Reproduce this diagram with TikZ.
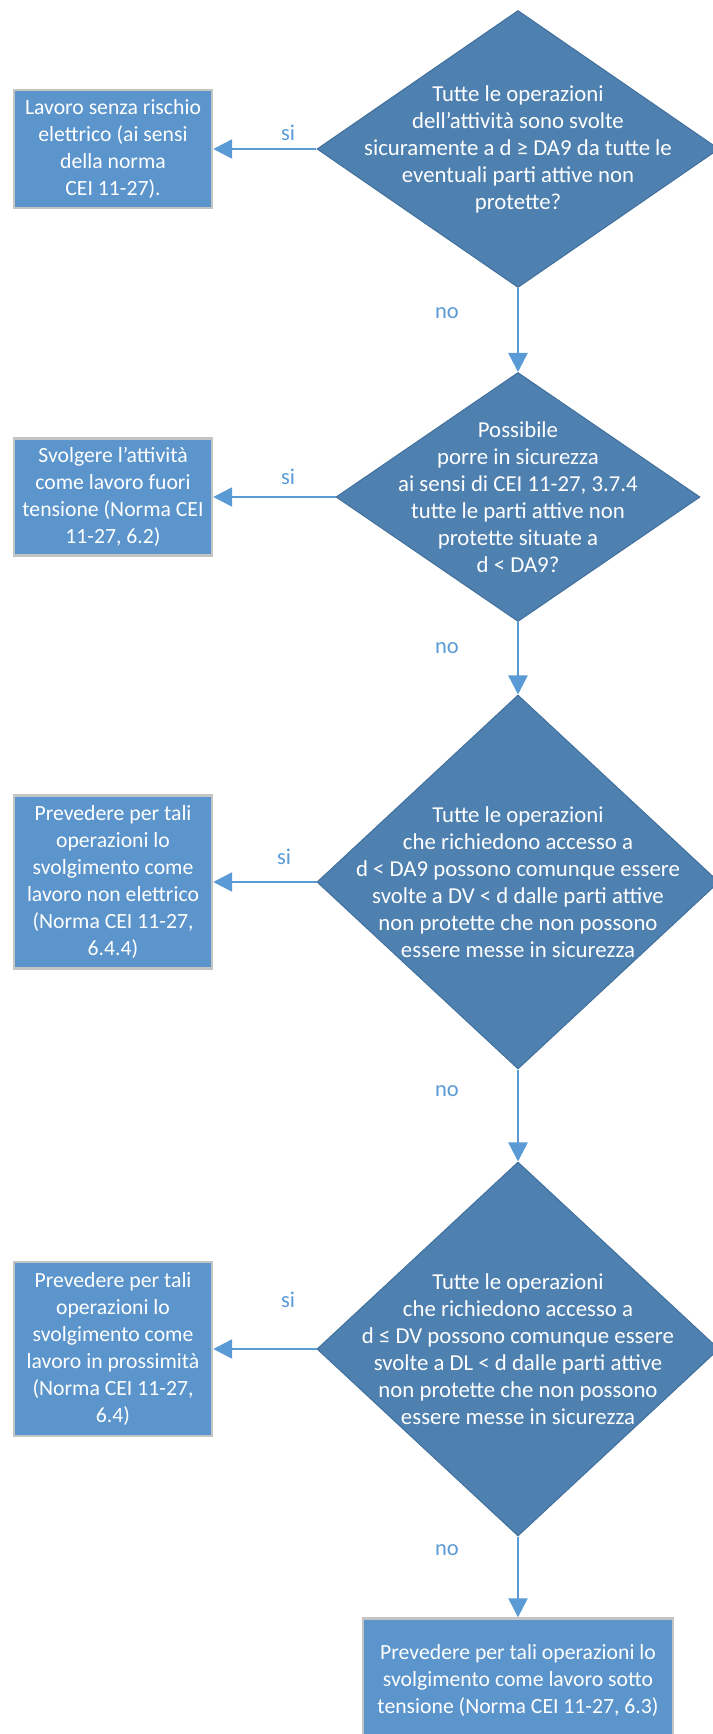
\documentclass[tikz,border=0pt]{standalone}
\usepackage{fontspec}
\setmainfont{Carlito}
\usetikzlibrary{shapes.geometric, arrows.meta}
\definecolor{diamondblue}{HTML}{4E80B0}
\definecolor{diamondedge}{HTML}{41709C}
\definecolor{boxblue}{HTML}{5B95CC}
\definecolor{boxedge}{HTML}{C4C4C4}
\definecolor{arrowblue}{HTML}{5B9BD5}
\tikzstyle{decision} = [diamond, inner sep=0pt, minimum width=402pt, minimum height=374pt, draw=diamondedge, line width=1pt, fill=diamondblue]
\tikzstyle{decision_text} = [text=white, align=center, inner sep=0pt, font=\fontsize{22.8}{27}\selectfont]
\tikzstyle{result} = [rectangle, minimum width=198pt, inner sep=0pt, align=center, draw=boxedge, line width=2.4pt, fill=boxblue, text=white, font=\fontsize{21.7}{27}\selectfont]
\tikzstyle{answer} = [text=arrowblue, inner sep=0pt, font=\fontsize{22.5}{27}\selectfont]
\tikzstyle{arrow} = [line width=2.5pt, draw=arrowblue, -{Triangle[width=19pt,length=19pt]}]

\begin{document}
\begin{tikzpicture}[x=1pt, y=-1pt]
		\useasboundingbox (0,0) rectangle (712,1734);
		\node (q1) [decision, minimum height=277pt] at (518,149) {};
		\node (q2) [decision, below of=q1, node distance=348pt, minimum width=364pt, minimum height=249pt] {};
		\node (q3) [decision, below of=q2, node distance=385pt] {};
		\node (q4) [decision, below of=q3, node distance=467pt] {};
		\node (q1_text) [decision_text] at (q1) {Tutte le operazioni\\dell’attività sono svolte\\sicuramente a d ≥ DA9 da tutte le\\eventuali parti attive non\\protette?};
		\node (q2_text) [decision_text] at (q2) {Possibile\\porre in sicurezza\\ai sensi di CEI 11-27, 3.7.4\\tutte le parti attive non\\protette situate a\\d < DA9?};
		\node (q3_text) [decision_text] at (q3) {Tutte le operazioni\\che richiedono accesso a\\d < DA9 possono comunque essere\\svolte a DV < d dalle parti attive\\non protette che non possono\\essere messe in sicurezza};
		\node (q4_text) [decision_text] at (q4) {Tutte le operazioni\\che richiedono accesso a\\d ≤ DV possono comunque essere\\svolte a DL < d dalle parti attive\\non protette che non possono\\essere messe in sicurezza};

		\node (res1) [result, left of=q1, node distance=405pt, minimum height=118pt] {Lavoro senza rischio\\elettrico (ai sensi\\della norma\\CEI 11-27).};
		\node (res2) [result, left of=q2, node distance=405pt, minimum height=117pt] {Svolgere l’attività\\come lavoro fuori\\tensione (Norma CEI\\11-27, 6.2)};
		\node (res3) [result, left of=q3, node distance=405pt, minimum height=173pt] {Prevedere per tali\\operazioni lo\\svolgimento come\\lavoro non elettrico\\(Norma CEI 11-27,\\6.4.4)};
		\node (res4) [result, left of=q4, node distance=405pt, minimum height=174pt] {Prevedere per tali\\operazioni lo\\svolgimento come\\lavoro in prossimità\\(Norma CEI 11-27,\\6.4)};
		\node (res5) [result, below of=q4, node distance=331pt, minimum width=310pt, minimum height=123pt] {Prevedere per tali operazioni lo\\svolgimento come lavoro sotto\\tensione (Norma CEI 11-27, 6.3)};

		\node (si1) [answer] at (288,133) {si};
		\node (si2) [answer] at (288,477) {si};
		\node (si3) [answer] at (284,857) {si};
		\node (si4) [answer] at (288,1300) {si};
		\node (no1) [answer] at (447,313) {no};
		\node (no2) [answer] at (447,648) {no};
		\node (no3) [answer] at (447,1091) {no};
		\node (no4) [answer] at (447,1550) {no};

		\draw [arrow] (q1) -- (res1);
		\draw [arrow] (q2) -- (res2);
		\draw [arrow] (q3) -- (res3);
		\draw [arrow] (q4) -- (res4);
		\draw [arrow] (q1) -- (q2);
		\draw [arrow] (q2) -- (q3);
		\draw [arrow] (q3) -- (q4);
		\draw [arrow] (q4) -- (res5);
\end{tikzpicture}
\end{document}
